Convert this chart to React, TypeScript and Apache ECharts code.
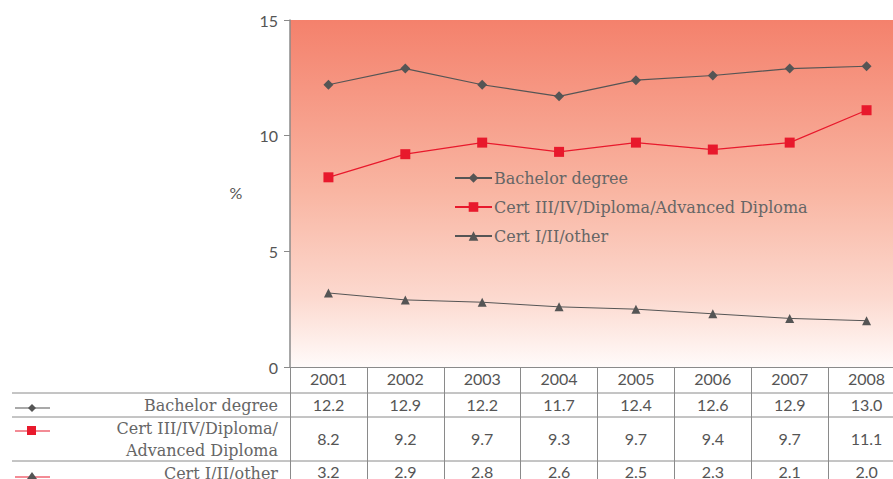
import React, { useEffect, useRef } from "react";
import * as echarts from "echarts";

const years = ["2001", "2002", "2003", "2004", "2005", "2006", "2007", "2008"];
const bachelor = [12.2, 12.9, 12.2, 11.7, 12.4, 12.6, 12.9, 13.0];
const certIII = [8.2, 9.2, 9.7, 9.3, 9.7, 9.4, 9.7, 11.1];
const certI = [3.2, 2.9, 2.8, 2.6, 2.5, 2.3, 2.1, 2.0];
const seriesNames = ["Bachelor degree", "Cert III/IV/Diploma/Advanced Diploma", "Cert I/II/other"];
const rowLabels = [["Bachelor degree"], ["Cert III/IV/Diploma/", "Advanced Diploma"], ["Cert I/II/other"]];

const SERIF = "DejaVu Serif";
const NUM = "Lato";
const GREY = "#555555";
const TEXT = "#666666";
const RED = "#e8192c";
const LINEC = "#8a8a8a";

export default function App() {
  const ref = useRef<HTMLDivElement>(null);
  useEffect(() => {
    document.body.style.margin = "0";
    if (!ref.current) return;
    const chart = echarts.init(ref.current, undefined, { renderer: "svg" });
    const fmt = (arr: number[]) => (_v: string, i: number) => arr[i].toFixed(1);
    const valueAxis = (arr: number[], margin: number) => ({
      type: "category",
      data: years,
      gridIndex: 0,
      position: "bottom",
      axisLine: { show: false },
      axisTick: { show: false },
      axisLabel: { margin, formatter: fmt(arr), color: GREY, fontFamily: NUM, fontSize: 16 },
    });
    const hLines = [393, 417, 461].map((y) => ({
      type: "line",
      shape: { x1: 12, y1: y, x2: 893, y2: y },
      style: { stroke: LINEC, lineWidth: 1 },
    }));
    const rowYs = [[405], [428, 450], [473]];
    const rowTexts: any[] = [];
    rowLabels.forEach((lines, r) =>
      lines.forEach((t, k) =>
        rowTexts.push({
          type: "text",
          x: 278,
          y: rowYs[r][k],
          style: { text: t, fill: TEXT, font: `16px "${SERIF}"`, textAlign: "right", textVerticalAlign: "middle" },
        })
      )
    );
    const icons: any[] = [
      { type: "line", shape: { x1: 15, y1: 408, x2: 50, y2: 408 }, style: { stroke: GREY, lineWidth: 1.2 } },
      { type: "polygon", shape: { points: [[32, 404], [36, 408], [32, 412], [28, 408]] }, style: { fill: GREY } },
      { type: "line", shape: { x1: 15, y1: 431, x2: 50, y2: 431 }, style: { stroke: RED, lineWidth: 1.2 } },
      { type: "rect", shape: { x: 27, y: 426, width: 9, height: 9 }, style: { fill: RED } },
      { type: "line", shape: { x1: 15, y1: 477, x2: 50, y2: 477 }, style: { stroke: RED, lineWidth: 1 } },
      { type: "polygon", shape: { points: [[32, 472], [37, 479], [27, 479]] }, style: { fill: GREY } },
    ];
    chart.setOption({
      animation: false,
      grid: {
        left: 290,
        top: 20,
        height: 347,
        width: 615,
        outerBoundsMode: "none",
        containLabel: false,
        show: true,
        borderWidth: 0,
        backgroundColor: new echarts.graphic.LinearGradient(0, 0, 0, 1, [
          { offset: 0, color: "#f4816c" },
          { offset: 0.5, color: "#f9b6a3" },
          { offset: 0.8, color: "#fcd9cf" },
          { offset: 1, color: "#fffbfa" },
        ]),
      },
      legend: {
        orient: "vertical",
        left: 449,
        top: 165,
        itemWidth: 37,
        itemHeight: 12,
        itemGap: 13,
        textStyle: { color: TEXT, fontFamily: SERIF, fontSize: 16, padding: [0, 0, 0, -3] },
        data: seriesNames,
      },
      xAxis: [
        {
          type: "category",
          data: years,
          boundaryGap: true,
          position: "bottom",
          axisLine: { lineStyle: { color: LINEC, width: 1 } },
          axisTick: { show: true, length: 115, lineStyle: { color: LINEC } },
          axisLabel: { margin: 3, color: GREY, fontFamily: NUM, fontSize: 16 },
        },
        valueAxis(bachelor, 29),
        valueAxis(certIII, 63),
        valueAxis(certI, 96),
      ],
      yAxis: {
        type: "value",
        min: 0,
        max: 15,
        interval: 5,
        axisLine: { show: true, lineStyle: { color: LINEC, width: 1.5 } },
        axisTick: { show: true, length: 6, lineStyle: { color: LINEC } },
        splitLine: { show: false },
        axisLabel: { margin: 12, color: GREY, fontFamily: NUM, fontSize: 16 },
      },
      series: [
        {
          name: seriesNames[0],
          type: "line",
          data: bachelor,
          symbol: "diamond",
          symbolSize: 10,
          lineStyle: { color: GREY, width: 1.2 },
          itemStyle: { color: GREY },
        },
        {
          name: seriesNames[1],
          type: "line",
          data: certIII,
          symbol: "rect",
          symbolSize: 10,
          lineStyle: { color: RED, width: 1.2 },
          itemStyle: { color: RED },
        },
        {
          name: seriesNames[2],
          type: "line",
          data: certI,
          symbol: "triangle",
          symbolSize: 9,
          lineStyle: { color: GREY, width: 1 },
          itemStyle: { color: GREY },
        },
      ],
      graphic: [
        {
          type: "text",
          x: 236,
          y: 192,
          style: { text: "%", fill: GREY, font: `16px "${NUM}"`, textAlign: "center", textVerticalAlign: "middle" },
        },
        ...hLines,
        ...rowTexts,
        ...icons,
      ],
    });
    return () => chart.dispose();
  }, []);
  return <div ref={ref} style={{ width: 893, height: 479 }} />;
}
